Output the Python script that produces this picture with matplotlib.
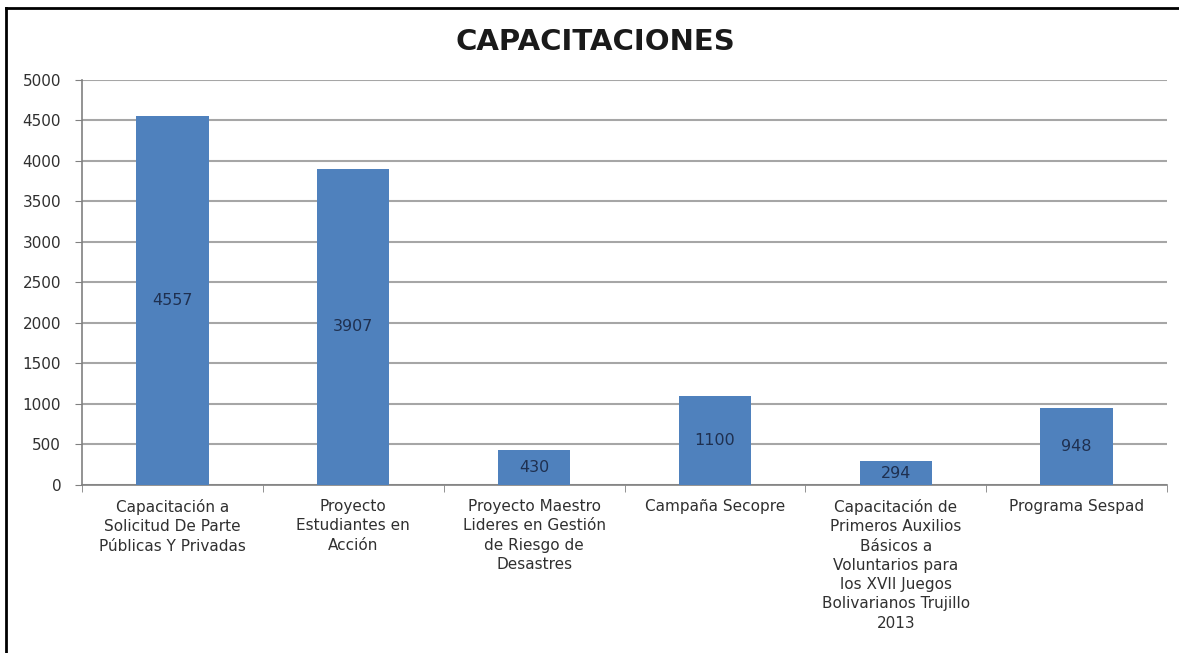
import matplotlib
matplotlib.use("Agg")
import matplotlib.pyplot as plt
from matplotlib.lines import Line2D
import numpy as np

categories = ['Capacitación a\nSolicitud De Parte\nPúblicas Y Privadas',
              'Proyecto\nEstudiantes en\nAcción',
              'Proyecto Maestro\nLideres en Gestión\nde Riesgo de\nDesastres',
              'Campaña Secopre',
              'Capacitación de\nPrimeros Auxilios\nBásicos a\nVoluntarios para\nlos XVII Juegos\nBolivarianos Trujillo\n2013',
              'Programa Sespad']
values = [4557, 3907, 430, 1100, 294, 948]
yticks = [0, 500, 1000, 1500, 2000, 2500, 3000, 3500, 4000, 4500, 5000]

fig = plt.figure(figsize=(11.79, 6.53), dpi=100)
ax = fig.add_axes([0.0696, 0.2573, 0.9202, 0.6202])

x = np.arange(len(values))
bars = ax.bar(x, values, width=0.4, color='#4f81bd', zorder=3)
for b, v in zip(bars, values):
    ax.text(b.get_x() + b.get_width() / 2, v / 2, str(v), ha='center', va='center',
            fontsize=11.5, color='#1f3050', zorder=4)

ax.set_xlim(-0.5, len(values) - 0.5)
ax.set_ylim(0, 5000)
ax.set_yticks(yticks)
ax.set_yticklabels([str(t) for t in yticks], fontsize=11, color='#303030')
ax.yaxis.grid(True, color='#a6a6a6', linewidth=1.5, zorder=0)

# category labels sit below the bars, ticks mark the category edges
ax.set_xticks(x)
ax.set_xticklabels(categories, fontsize=11, color='#303030', linespacing=1.36)
ax.tick_params(axis='x', length=0, pad=10)
ax.set_xticks(np.arange(-0.5, len(values)), minor=True)
ax.tick_params(axis='x', which='minor', length=5, color='#808080')
ax.tick_params(axis='y', length=5, color='#808080', pad=10)

for side in ['top', 'right']:
    ax.spines[side].set_visible(False)
for side in ['left', 'bottom']:
    ax.spines[side].set_color('#808080')
    ax.spines[side].set_linewidth(1.2)

fig.text(0.505, 0.935, 'CAPACITACIONES', ha='center', va='center',
         fontsize=21, fontweight='bold', color='#1a1a1a')

# frame lines along the top and left edge
fig.add_artist(Line2D([6 / 1179, 6 / 1179], [0, 1 - 8 / 653], color='black', linewidth=2))
fig.add_artist(Line2D([6 / 1179, 1], [1 - 8 / 653, 1 - 8 / 653], color='black', linewidth=2))

plt.savefig('out.png', dpi=100)
